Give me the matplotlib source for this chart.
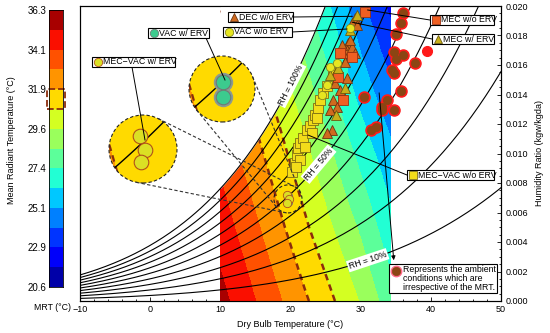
import numpy as np
import matplotlib.pyplot as plt
import matplotlib.ticker as mticker
from matplotlib.colors import ListedColormap, BoundaryNorm
from matplotlib.patches import Circle, Rectangle, FancyArrowPatch
from matplotlib.lines import Line2D

plt.rcParams['font.family'] = ['Liberation Sans', 'DejaVu Sans']

# ---- MRT colour scale ----
mrt_levels = np.linspace(20.6, 36.3, 15)
mrt_ticklabels = ['20.6', '22.9', '25.1', '27.4', '29.6', '31.9', '34.1', '36.3']
highlight_band = (30.69, 31.81)

# MRT (rows: humidity ratio, cols: dry bulb)
grid_t = [10, 14, 18, 22, 26, 30, 34.3]
grid_w = [0.0, 0.005, 0.010, 0.015, 0.020]
mrt_grid = [
    [35.6, 34.4, 33.2, 32.0, 30.8, 29.5, 27.8],
    [34.7, 33.5, 32.2, 30.9, 29.6, 28.3, 26.6],
    [33.8, 32.5, 31.2, 29.9, 28.5, 27.0, 25.4],
    [32.8, 31.5, 30.2, 28.8, 27.3, 25.6, 24.0],
    [31.8, 30.5, 29.2, 27.7, 26.1, 24.3, 22.6],
]
rh_values = [0.1, 0.2, 0.3, 0.4, 0.5, 0.6, 0.7, 0.8, 0.9, 1.0]

# ---- indoor states (dry bulb degC, humidity ratio kg/kg) ----
mecvac_noerv_t = [20.2, 20.6, 20.9, 21.1, 21.4, 21.8, 22.4, 22.8, 23.2, 23.5,
                  23.9, 24.2, 24.6, 25.2, 26.1, 21.4, 22.1, 23.1, 20.8, 23.8]
mecvac_noerv_w = [0.00875, 0.00936, 0.0099, 0.01037, 0.01071, 0.01105, 0.0116, 0.01187,
                  0.01227, 0.01261, 0.01309, 0.01363, 0.0141, 0.01458, 0.01553, 0.00956,
                  0.01044, 0.01139, 0.00908, 0.01241]
dec_noerv_t = [29.2, 28.8, 29.5, 28.2, 28.0, 28.8, 27.5, 29.2, 27.8, 26.6,
               28.0, 26.3, 27.1, 26.1, 26.6, 25.6, 25.9, 25.2, 28.5, 27.3]
dec_noerv_w = [0.01919, 0.01885, 0.01871, 0.01749, 0.01702, 0.01722, 0.01681, 0.01681,
               0.0162, 0.01566, 0.01512, 0.01478, 0.01431, 0.01363, 0.01315, 0.01295,
               0.0116, 0.01139, 0.0177, 0.01736]
mec_erv_t = [29.5, 26.8, 27.8, 26.5, 25.6, 28.5]
mec_erv_w = [0.0194, 0.0158, 0.01444, 0.01261, 0.01532, 0.01837]
mec_noerv_t = [30.6, 27.1, 26.8, 28.8, 27.5]
mec_noerv_w = [0.0196, 0.01681, 0.01519, 0.01654, 0.01363]
vac_noerv_t = [25.2, 25.6, 26.6, 28.5, 24.5]
vac_noerv_w = [0.01464, 0.01587, 0.01614, 0.01851, 0.01397]
vac_erv_t = [19.7, 19.7]
vac_erv_w = [0.0071, 0.00672]
mecvac_erv_t = [19.5, 19.75, 19.55]
mecvac_erv_w = [0.00722, 0.0069, 0.00662]

# ambient conditions
amb_t = [36.1, 35.8, 35.1, 34.7, 36.1, 35.0, 37.8, 34.5, 34.8, 35.7, 33.0, 33.7,
         34.8, 33.1, 32.2, 31.5, 30.5]
amb_w = [0.01953, 0.01885, 0.0181, 0.01688, 0.01668, 0.0164, 0.01614, 0.01566,
         0.01546, 0.01424, 0.01315, 0.01363, 0.01295, 0.01295, 0.0118, 0.0116, 0.01383]
amb_red_t = [39.4]
amb_red_w = [0.01695]

zoom_t, zoom_w = 19.64, 0.00692


def w_sat(t, rh=1.0, p=101.325):
    ps = 0.61094 * np.exp(17.625 * t / (t + 243.04))
    pv = rh * ps
    return 0.622 * pv / (p - pv)


def mrt_field(tq, wq):
    rows = np.array([np.interp(tq, grid_t, r) for r in mrt_grid])
    return np.array([np.interp(wq, grid_w, rows[:, j]) for j in range(len(tq))]).T


styles = {
    'mecvac_noerv': dict(marker='s', mfc='#f2dc1a', mec='#7d6e14', ms=6.5, mew=0.6),
    'dec_noerv': dict(marker='^', mfc='#d06a1e', mec='#6b3510', ms=7, mew=0.6),
    'mec_erv': dict(marker='^', mfc='#c8b018', mec='#6b5a10', ms=7, mew=0.6),
    'mec_noerv': dict(marker='s', mfc='#ef5f22', mec='#9a3010', ms=6.5, mew=0.6),
    'vac_noerv': dict(marker='o', mfc='#e6e620', mec='#858520', ms=6, mew=0.6),
    'vac_erv': dict(marker='o', mfc='#3ccb8e', mec='#6f7a74', ms=6, mew=0.6),
    'mecvac_erv': dict(marker='o', mfc='#dbe024', mec='#b0501a', ms=6, mew=0.6),
    'amb': dict(marker='o', mfc='#8b4513', mec='#8b4513', ms=6, mew=0.5),
}

nb = len(mrt_levels) - 1
band_cmap = ListedColormap(plt.get_cmap('jet')((np.arange(nb) + 0.5) / nb))
band_norm = BoundaryNorm(mrt_levels, nb)

fine_t = np.linspace(grid_t[0], grid_t[-1], 700)
fine_w = np.linspace(grid_w[0], grid_w[-1], 700)
field = mrt_field(fine_t, fine_w)
field[fine_w[:, None] > w_sat(fine_t)[None, :]] = np.nan
gt, gw = np.meshgrid(grid_t, grid_w)
mrt = np.array(mrt_grid)

FW, FH = 550, 333
fig = plt.figure(figsize=(5.5, 3.33), dpi=100)


def frac_box(x0, y0, x1, y1):
    return [x0 / FW, 1 - y1 / FH, (x1 - x0) / FW, (y1 - y0) / FH]


PX = fig.dpi_scale_trans


def pin(x, y):
    return (x / 100, (FH - y) / 100)


# ---- frame, ticks and axis labels ----
ax = fig.add_axes(frac_box(80, 6, 501, 301))
ax.set_xlim(-10, 50)
ax.set_ylim(0, 0.020)
ax.yaxis.tick_right()
ax.yaxis.set_label_position('right')
ax.set_yticks(np.arange(0, 0.0201, 0.002))
ax.yaxis.set_major_formatter(mticker.FormatStrFormatter('%.3f'))
ax.yaxis.set_minor_locator(mticker.MultipleLocator(0.0005))
ax.set_xticks(np.arange(-10, 51, 10))
ax.xaxis.set_minor_locator(mticker.MultipleLocator(2))
ax.tick_params(which='both', direction='in', labelsize=6.5, width=0.6, pad=3)
ax.tick_params(which='major', length=3)
ax.tick_params(which='minor', length=1.5)
ax.set_xlabel('Dry Bulb Temperature (°C)', fontsize=6.5, labelpad=4)
ax.set_ylabel('Humidity Ratio (kgw/kgda)', fontsize=6.5, labelpad=5)

# ---- chart content on an overlay with the same scales ----
axf = fig.add_axes(frac_box(80, 6, 501, 301))
axf.set_zorder(0.1)
axf.patch.set_visible(False)
axf.xaxis.set_visible(False)
axf.yaxis.set_visible(False)
for s in axf.spines.values():
    s.set_linewidth(0.8)
    s.set_zorder(10)

axf.imshow(field, extent=[grid_t[0], grid_t[-1], grid_w[0], grid_w[-1]], origin='lower',
           aspect='auto', cmap=band_cmap, norm=band_norm, interpolation='nearest', zorder=1)
axf.contour(gt, gw, mrt, levels=list(highlight_band), colors='#8b2c0c',
            linewidths=1.8, linestyles=[(0, (2.6, 1.8))] * 2, zorder=1.2)
te = np.linspace(grid_t[0], grid_t[-1], 300)
axf.fill_between(te, np.minimum(w_sat(te), 0.03), 0.03, color='white', lw=0, zorder=1.5)
axf.set_xlim(-10, 50)
axf.set_ylim(0, 0.020)

t_line = np.linspace(-10, 50, 300)
for rh in rh_values:
    axf.plot(t_line, w_sat(t_line, rh), color='k', lw=0.8, zorder=2)


def curve_angle(t, rh):
    p1 = axf.transData.transform((t - 0.3, w_sat(t - 0.3, rh)))
    p2 = axf.transData.transform((t + 0.3, w_sat(t + 0.3, rh)))
    return float(np.degrees(np.arctan2(p2[1] - p1[1], p2[0] - p1[0])))


for t, rh, txt in [(20, 1.0, 'RH = 100%'), (24, 0.5, 'RH = 50%'), (31, 0.1, 'RH = 10%')]:
    axf.text(t, w_sat(t, rh), txt, rotation=curve_angle(t, rh), ha='center', va='center',
             fontsize=6.2, zorder=3, rotation_mode='anchor',
             bbox=dict(boxstyle='square,pad=0.15', fc='white', ec='none'))

axf.plot(amb_t, amb_w, ls='none', marker='o', mfc='#ff1a1a', mec='#ff1a1a', ms=8, zorder=3)
axf.plot(amb_red_t, amb_red_w, ls='none', marker='o', mfc='#ff1a1a', mec='#ff1a1a', ms=7, zorder=3)
axf.plot(amb_t, amb_w, ls='none', zorder=4, **styles['amb'])
axf.plot(mecvac_noerv_t, mecvac_noerv_w, ls='none', zorder=4, **styles['mecvac_noerv'])
axf.plot(dec_noerv_t, dec_noerv_w, ls='none', zorder=5, **styles['dec_noerv'])
axf.plot(mec_noerv_t, mec_noerv_w, ls='none', zorder=5, **styles['mec_noerv'])
axf.plot(mec_erv_t, mec_erv_w, ls='none', zorder=5, **styles['mec_erv'])
axf.plot(vac_noerv_t, vac_noerv_w, ls='none', zorder=6, **styles['vac_noerv'])
axf.plot(vac_erv_t, vac_erv_w, ls='none', zorder=6, **styles['vac_erv'])
axf.plot(mecvac_erv_t, mecvac_erv_w, ls='none', zorder=6, **styles['mecvac_erv'])

# ---- colour bar (drawn directly from the band levels) ----
cax = fig.add_axes(frac_box(49, 10, 63, 287))
band_mid = (mrt_levels[:-1] + mrt_levels[1:]) / 2
cax.imshow(band_mid[:, None], extent=[0, 1, mrt_levels[0], mrt_levels[-1]], origin='lower',
           aspect='auto', cmap=band_cmap, norm=band_norm, interpolation='nearest')
cax.set_xlim(0, 1)
cax.set_ylim(mrt_levels[0], mrt_levels[-1])
cax.set_xticks([])
cax.set_yticks(mrt_levels[::2])
cax.set_yticklabels(mrt_ticklabels)
cax.tick_params(length=0, labelsize=7, pad=2)
for s in cax.spines.values():
    s.set_linewidth(0.6)
cax.add_patch(Rectangle((-0.12, highlight_band[0]), 1.24, highlight_band[1] - highlight_band[0],
                        fill=False, ls='--', ec='#8b2c0c', lw=1.3, clip_on=False))
fig.text(12 / FW, 1 - 140 / FH, 'Mean Radiant Temperature (°C)', rotation=90,
         ha='center', va='center', fontsize=6.5)
fig.text(52 / FW, 1 - 308 / FH, 'MRT (°C)', ha='center', va='center', fontsize=6.3)

# ---- zoomed insets ----
tx, ty = axf.transData.transform((zoom_t, zoom_w))
target = (tx, FH - ty, 14)
win_t = (zoom_t - 1.7, zoom_t + 1.7)
win_w = (zoom_w - 0.0008, zoom_w + 0.0008)
loc_t = np.linspace(win_t[0], win_t[1], 120)
loc_w = np.linspace(win_w[0], win_w[1], 120)
loc_field = mrt_field(loc_t, loc_w)


def add_inset(cx, cy, r, series):
    a = fig.add_axes(frac_box(cx - r, cy - r, cx + r, cy + r))
    a.set_zorder(0.2)
    clip = Circle((0.5, 0.5), 0.5, transform=a.transAxes)
    arts = [a.imshow(loc_field, extent=[win_t[0], win_t[1], win_w[0], win_w[1]], origin='lower',
                     aspect='auto', cmap=band_cmap, norm=band_norm, interpolation='nearest')]
    arts.append(a.contour(loc_t, loc_w, loc_field, levels=list(highlight_band), colors='#8b2c0c',
                          linewidths=1.6, linestyles=[(0, (3, 2))] * 2))
    for rh in rh_values:
        arts += a.plot(loc_t, w_sat(loc_t, rh), color='k', lw=1.0, zorder=2)
    for (st, sw, key, halo) in series:
        if halo:
            arts += a.plot(st, sw, ls='none', marker='o', ms=13, mfc='#8c9a92', mec='#8c9a92', zorder=3)
        kw = dict(styles[key])
        kw['ms'] = 10.5
        kw['mew'] = 0.8
        arts += a.plot(st, sw, ls='none', zorder=4, **kw)
    a.set_xlim(*win_t)
    a.set_ylim(*win_w)
    a.set_axis_off()
    for art in arts:
        art.set_clip_path(clip)
    a.add_patch(Circle((0.5, 0.5), 0.5, transform=a.transAxes, fill=False,
                       ls=(0, (3, 2)), lw=0.8, ec='#222222', clip_on=False, zorder=5))
    return (cx, cy, r)


in1 = add_inset(222, 89, 33, [(vac_erv_t, vac_erv_w, 'vac_erv', True)])
in2 = add_inset(143, 149, 34, [(mecvac_erv_t, mecvac_erv_w, 'mecvac_erv', False)])

fig.add_artist(Circle(pin(target[0], target[1]), target[2] / 100, transform=PX, fill=False,
                      ls=(0, (3, 2)), lw=0.8, ec='#222222', zorder=3))


def tangents(c1, c2):
    p1 = np.array(c1[:2], float)
    p2 = np.array(c2[:2], float)
    d = p2 - p1
    D = np.hypot(*d)
    v = d / D
    perp = np.array([-v[1], v[0]])
    k = (c1[2] - c2[2]) / D
    out = []
    for s in (1, -1):
        n = k * v + s * np.sqrt(1 - k * k) * perp
        out.append((p1 + c1[2] * n, p2 + c2[2] * n))
    return out


for big in (in1, in2):
    for a0, b0 in tangents(big, target):
        fig.add_artist(Line2D([a0[0] / 100, b0[0] / 100], [(FH - a0[1]) / 100, (FH - b0[1]) / 100],
                              transform=PX, color='#333333', lw=0.8, ls=(0, (3, 2)), zorder=3))


# ---- labelled boxes with leader lines ----
def to_px(t, w):
    x, y = axf.transData.transform((t, w))
    return x, FH - y


def label_box(bx0, by0, bx1, by1, text, key, start, end):
    fig.add_artist(Line2D([start[0] / 100, end[0] / 100], [(FH - start[1]) / 100, (FH - end[1]) / 100],
                          transform=PX, color='k', lw=0.7, zorder=7))
    fig.add_artist(Rectangle(pin(bx0, by1), (bx1 - bx0) / 100, (by1 - by0) / 100, transform=PX,
                             fc='white', ec='k', lw=0.8, zorder=8))
    kw = dict(styles[key])
    kw['ms'] = 6
    fig.add_artist(Line2D([(bx0 + 6) / 100], [(FH - (by0 + by1) / 2) / 100], transform=PX,
                          ls='none', zorder=9, **kw))
    fig.text((bx0 + 11) / FW, 1 - (by0 + by1) / 2 / FH, text, ha='left', va='center',
             fontsize=6.3, zorder=9)


label_box(92, 57, 175, 67, 'MEC\u2212VAC w/ ERV', 'mecvac_erv', (132, 67), (145, 140))
label_box(148, 28, 209, 38, 'VAC w/ ERV', 'vac_erv', (206, 38), (225, 80))
label_box(228, 12, 293, 22, 'DEC w/o ERV', 'dec_noerv', (293, 17), to_px(28.8, 0.0193))
label_box(223, 27, 292, 37, 'VAC w/o ERV', 'vac_noerv', (292, 32), to_px(28.05, 0.01844))
label_box(430, 15, 494, 25, 'MEC w/o ERV', 'mec_noerv', (430, 20), to_px(31.0, 0.01973))
label_box(432, 34, 494, 44, 'MEC w/ ERV', 'mec_erv', (432, 39), to_px(28.8, 0.0189))
label_box(407, 170, 494, 180, 'MEC\u2212VAC w/o ERV', 'mecvac_noerv', (407, 175), to_px(22.5, 0.01125))

# ---- ambient note ----
ax0, ay0 = axf.transData.transform((32.6, 0.0143))
fig.add_artist(FancyArrowPatch((ax0 / 100, ay0 / 100), pin(394, 263), transform=PX, arrowstyle='-|>',
                               mutation_scale=6, color='k', lw=0.7, zorder=7))
fig.add_artist(Rectangle(pin(389, 293), 108 / 100, 29 / 100, transform=PX,
                         fc='white', ec='k', lw=0.8, zorder=8))
fig.add_artist(Line2D([396 / 100], [(FH - 271) / 100], transform=PX, ls='none', marker='o',
                      ms=7.5, mfc='#ff6a8a', mec='#ff6a8a', zorder=9))
fig.add_artist(Line2D([396 / 100], [(FH - 271) / 100], transform=PX, ls='none', zorder=9,
                      **dict(styles['amb'], ms=6)))
fig.text(403 / FW, 1 - 278.5 / FH, 'Represents the ambient\nconditions which are\nirrespective of the MRT.',
         ha='left', va='center', fontsize=6.3, linespacing=1.05, zorder=9)

fig.savefig('out.png', dpi=100)
